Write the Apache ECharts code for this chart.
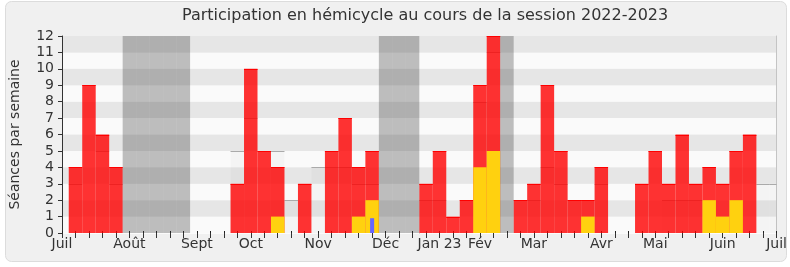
<!DOCTYPE html>
<html>
<head>
<meta charset="utf-8">
<script src="https://cdn.jsdelivr.net/npm/echarts@6/dist/echarts.min.js"></script>
<style>
html, body { margin: 0; padding: 0; background: #fff; }
#chart { width: 790px; height: 267px; }
</style>
</head>
<body>
<div id="chart"></div>
<script>
// une catégorie par semaine, de fin juin 2022 à début juillet 2023
var semaines = [
  0, 1, 2, 3, 4, 5, 6, 7, 8, 9,
  10, 11, 12, 13, 14, 15, 16, 17, 18, 19,
  20, 21, 22, 23, 24, 25, 26, 27, 28, 29,
  30, 31, 32, 33, 34, 35, 36, 37, 38, 39,
  40, 41, 42, 43, 44, 45, 46, 47, 48, 49,
  50, 51, 52, 53
]
// libellés des mois et la semaine où ils s'affichent
var moisSemaine = [0, 5, 10, 14, 19, 24, 28, 31, 35, 40, 44, 49, 53]
var moisLabels = ['Juil', 'Août', 'Sept', 'Oct', 'Nov', 'Déc', 'Jan 23', 'Fév', 'Mar', 'Avr', 'Mai', 'Juin', 'Juil']

// séances de présence (rouge)
var presences = [
  null, 4, 9, 6, 4, null, null, null, null, null,
  null, null, null, 3, 10, 5, 4, null, 3, null,
  5, 7, 4, 5, null, null, null, 3, 5, 1,
  2, 9, 12, null, 2, 3, 9, 5, 2, 2,
  4, null, null, 3, 5, 3, 6, 3, 4, 3,
  5, 6, null, null
]
// séances avec intervention (jaune)
var interventions = [
  null, null, null, null, null, null, null, null, null, null,
  null, null, null, null, null, null, 1, null, null, null,
  null, null, 1, 2, null, null, null, null, null, null,
  null, 4, 5, null, null, null, null, null, null, 1,
  null, null, null, null, null, null, null, null, 2, 1,
  2, null, null, null
]
// questions orales (bleu)
var questions = [
  null, null, null, null, null, null, null, null, null, null,
  null, null, null, null, null, null, null, null, null, null,
  null, null, null, 0.9, null, null, null, null, null, null,
  null, null, null, null, null, null, null, null, null, null,
  null, null, null, null, null, null, null, null, null, null,
  null, null, null, null
]
// médiane des députés
var mediane = [
  null, 3, null, 5, 3, null, null, null, null, null,
  null, null, null, 5, 7, null, 5, 2, null, 4,
  4, 4, 3, 3, null, null, null, 2, 2, null,
  null, 8, 11, null, null, 2, 4, 3, null, null,
  3, null, null, null, null, 2, 2, 2, null, null,
  null, null, 3, 3
]
// semaines de vacances parlementaires
var vacances = [
  null, null, null, null, null, 12, 12, 12, 12, 12,
  null, null, null, null, null, null, null, null, null, null,
  null, null, null, null, 12, 12, 12, null, null, null,
  null, null, null, 12, null, null, null, null, null, null,
  null, null, null, null, null, null, null, null, null, null,
  null, null, null, null
]

var police = 'DejaVu Sans'

function paires(arr) {
  return arr.map(function (v, i) { return [i, v] })
}

// rectangle d'une semaine, coupé au bord du graphique, avec un trait en haut optionnel
function barreSemaine(params, api, fill, trait, largeur) {
  var v = api.value(1)
  if (v == null || isNaN(v)) return
  var haut = api.coord([api.value(0), v])
  var bas = api.coord([api.value(0), 0])
  var w = api.size([1, 0])[0] * (largeur || 1)
  var cs = params.coordSys
  var rect = echarts.graphic.clipRectByRect({
    x: haut[0] - w / 2, y: haut[1], width: w, height: bas[1] - haut[1]
  }, cs)
  if (!rect) return
  var enfants = [{ type: 'rect', shape: rect, style: { fill: fill } }]
  if (trait) {
    var y = Math.round(haut[1]) + 0.5
    enfants.push({
      type: 'line',
      shape: { x1: rect.x, y1: y, x2: rect.x + rect.width, y2: y },
      style: { stroke: trait, lineWidth: 1 }
    })
  }
  return { type: 'group', children: enfants }
}

var chart = echarts.init(document.getElementById('chart'))
var option = {
  backgroundColor: '#fff',
  animation: false,
  textStyle: { fontFamily: police },
  graphic: [{
    type: 'rect',
    z: -100,
    shape: { x: 5.5, y: 1.5, width: 781, height: 260, r: 6 },
    style: { fill: '#f0f0f0', stroke: '#dcdcdc', lineWidth: 1 }
  }],
  title: {
    text: 'Participation en hémicycle au cours de la session 2022-2023',
    left: 182,
    top: 8,
    padding: 0,
    textStyle: { fontFamily: police, fontSize: 16, fontWeight: 'normal', color: '#333' }
  },
  grid: { left: 61, right: 10, top: 36, bottom: 34 },
  xAxis: [{
    type: 'category',
    data: semaines,
    boundaryGap: false,
    axisLine: { lineStyle: { color: '#333' } },
    axisTick: { interval: 0, length: 5, lineStyle: { color: '#333' } },
    axisLabel: {
      interval: 0,
      margin: 4,
      fontSize: 14,
      color: '#333',
      fontFamily: police,
      formatter: function (v, i) {
        var k = moisSemaine.indexOf(i)
        return k >= 0 ? moisLabels[k] : ''
      }
    },
    splitLine: { show: false }
  }, {
    type: 'category',
    data: semaines,
    boundaryGap: false,
    position: 'top',
    axisLine: { show: true, lineStyle: { color: '#fbfbfb' } },
    axisTick: { interval: 0, length: 2, lineStyle: { color: '#222' } },
    axisLabel: { show: false },
    splitLine: { show: false }
  }],
  yAxis: [{
    type: 'value',
    min: 0,
    max: 12,
    interval: 1,
    name: 'Séances par semaine',
    nameLocation: 'middle',
    nameRotate: 90,
    nameGap: 40,
    nameTextStyle: { fontFamily: police, fontSize: 14, color: '#333' },
    axisLine: { show: true, lineStyle: { color: '#333' } },
    axisTick: { show: true, length: 4, lineStyle: { color: '#333' } },
    axisLabel: { fontSize: 14, color: '#333', margin: 8, fontFamily: police },
    splitLine: { show: false },
    splitArea: { show: true, areaStyle: { color: ['#fafafa', '#e6e6e6'] } }
  }, {
    type: 'value',
    min: 0,
    max: 12,
    interval: 1,
    position: 'right',
    axisLine: { show: true, lineStyle: { color: '#c4c4c4' } },
    axisTick: { show: false },
    axisLabel: { show: false },
    splitLine: { show: false }
  }],
  series: [
    {
      name: 'Vacances',
      type: 'bar',
      data: vacances,
      barWidth: '100%',
      barGap: '-100%',
      itemStyle: { color: 'rgba(50,50,50,0.3)' }
    },
    {
      name: 'Médiane',
      type: 'custom',
      data: paires(mediane),
      renderItem: function (params, api) {
        return barreSemaine(params, api, 'rgba(0,0,0,0.025)', '#aaa')
      }
    },
    {
      name: 'Présences',
      type: 'custom',
      data: paires(presences),
      renderItem: function (params, api) {
        return barreSemaine(params, api, 'rgba(255,0,0,0.8)', '#f00')
      }
    },
    {
      name: 'Interventions',
      type: 'custom',
      data: paires(interventions),
      renderItem: function (params, api) {
        return barreSemaine(params, api, '#ffd10f')
      }
    },
    {
      name: 'Questions',
      type: 'custom',
      data: paires(questions),
      renderItem: function (params, api) {
        return barreSemaine(params, api, '#6666ff', null, 0.3)
      }
    }
  ]
}
chart.setOption(option)
</script>
</body>
</html>
